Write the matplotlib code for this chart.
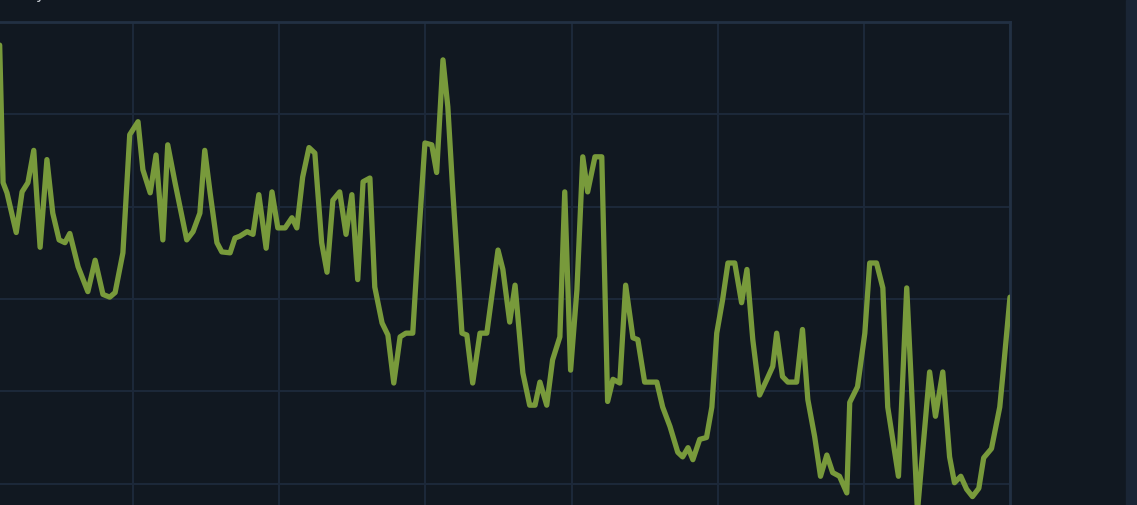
import matplotlib
matplotlib.use("Agg")
import matplotlib.pyplot as plt

# day index (30 days between vertical grid lines) and value
days = [2.6, 3.3, 4.1, 6.0, 7.2, 8.4, 9.6, 10.9, 12.3, 13.5,
        14.8, 16.0, 17.0, 18.7, 20.7, 22.2, 23.8, 25.2, 26.3, 27.9,
        29.3, 31.0, 32.0, 33.5, 34.7, 36.1, 37.1, 38.6, 41.0, 42.3,
        43.7, 44.7, 45.8, 47.2, 48.2, 49.9, 50.9, 51.9, 53.4, 54.6,
        55.8, 57.3, 58.5, 59.7, 61.2, 62.6, 63.6, 64.8, 66.1, 67.3,
        68.7, 69.8, 71.0, 72.4, 73.7, 74.9, 76.1, 77.2, 78.6, 79.6,
        81.1, 82.3, 83.5, 84.8, 86.0, 87.4, 88.4, 89.9, 91.3, 92.3,
        93.6, 94.6, 95.6, 97.5, 98.5, 99.7, 101.2, 102.6, 104.9, 105.9,
        107.3, 108.4, 110.0, 111.4, 112.5, 113.5, 114.9, 116.1, 117.6, 118.6,
        119.8, 121.1, 122.3, 123.3, 124.8, 126.2, 127.4, 128.5, 129.9, 131.1,
        132.6, 133.6, 135.0, 137.5, 138.7, 140.2, 141.8, 142.8, 143.9, 144.9,
        146.3, 147.7, 148.8, 149.8, 151.0, 152.1, 153.5, 154.9, 156.0, 157.2,
        158.6, 160.1, 161.3, 162.1, 163.3, 164.4, 166.2, 167.4, 168.5, 169.9,
        171.1, 172.4, 173.6, 175.0, 176.5, 177.1, 178.7, 180.2, 181.2, 182.6,
        183.9, 184.9, 187.1, 188.8, 191.0, 193.5, 194.7, 196.2, 197.6, 198.6,
        199.9, 201.1, 202.3, 203.6, 204.6, 206.2, 207.9, 208.5, 210.0]
values = [57.5, 42.6, 41.5, 37.2, 41.6, 42.6, 46.1, 35.6, 45.1, 39.3,
          36.4, 36.1, 37.1, 33.5, 30.8, 34.2, 30.5, 30.2, 30.7, 35.0,
          47.8, 49.2, 44.0, 41.5, 45.6, 36.4, 46.7, 42.6, 36.4, 37.3,
          39.3, 46.1, 41.5, 36.1, 35.1, 35.0, 36.6, 36.8, 37.3, 37.0,
          41.3, 35.5, 41.6, 37.7, 37.7, 38.8, 37.7, 43.2, 46.4, 45.8,
          36.1, 32.9, 40.7, 41.6, 37.0, 41.3, 32.1, 42.7, 43.1, 31.3,
          27.4, 26.1, 20.9, 25.9, 26.3, 26.3, 35.0, 46.9, 46.7, 43.7,
          55.9, 50.8, 41.8, 26.3, 26.1, 20.9, 26.3, 26.3, 35.3, 33.2,
          27.5, 31.5, 22.0, 18.5, 18.5, 21.0, 18.5, 23.4, 25.9, 41.6,
          22.3, 31.0, 45.4, 41.6, 45.4, 45.4, 18.9, 21.3, 20.9, 31.5,
          25.8, 25.6, 21.0, 21.0, 18.3, 16.2, 13.4, 12.9, 13.9, 12.6,
          14.8, 15.0, 18.3, 26.3, 29.9, 33.9, 33.9, 29.6, 33.2, 25.6,
          19.6, 21.3, 22.7, 26.3, 21.6, 21.0, 21.0, 26.7, 19.1, 15.1,
          10.8, 13.1, 11.2, 10.8, 9.0, 18.8, 20.5, 26.3, 33.9, 33.9,
          31.2, 18.3, 10.8, 31.2, 7.0, 22.1, 17.3, 22.1, 12.9, 10.1,
          10.8, 9.4, 8.6, 9.5, 12.8, 13.8, 18.3, 21.6, 30.2]

x_ticks = [0, 30, 60, 90, 120, 150, 180, 210]
y_ticks = [0, 10, 20, 30, 40, 50, 60]

bg = "#111821"
grid_col = "#1d293a"
line_col = "#789a3b"

fig = plt.figure(figsize=(11.37, 5.05), dpi=100, facecolor=bg)

# darker page strip on the far right
fig.patches.append(plt.Rectangle((1126 / 1137, 0), 11 / 1137, 1, transform=fig.transFigure,
                                 color="#1a2535", zorder=0))

# axes reach past the left and bottom edges of the picture
ax = fig.add_axes([-13 / 1137, -71 / 505, 1023 / 1137, 554 / 505])
ax.set_facecolor(bg)
ax.plot(days, values, color=line_col, lw=3.8, solid_joinstyle="round", solid_capstyle="round",
        zorder=3)

ax.set_xlim(0, 210)
ax.set_ylim(0, 60)
ax.set_xticks(x_ticks)
ax.set_yticks(y_ticks)
ax.tick_params(length=0, labelbottom=False, labelleft=False)
ax.grid(True, color=grid_col, lw=1.4)
for s in ax.spines.values():
    s.set_color("#223043")
    s.set_linewidth(2)

# bit of a title cut off at the top
fig.text(35 / 1137, 1 + 1 / 505, "y", color="#c8ccd2", fontsize=11, va="baseline")

fig.savefig("out.png", dpi=100, facecolor=bg)
